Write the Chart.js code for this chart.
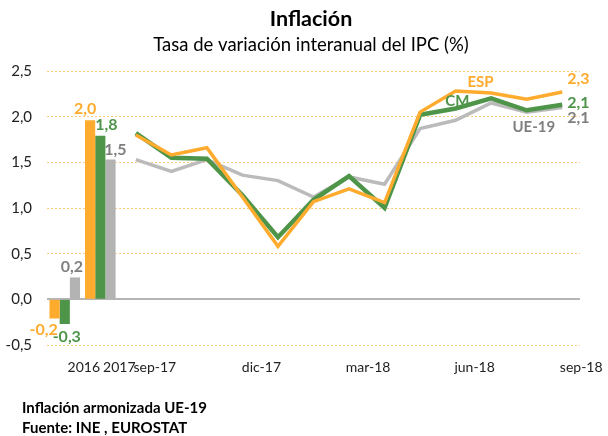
<!DOCTYPE html>
<html><head><meta charset="utf-8">
<script src="https://cdn.jsdelivr.net/npm/chart.js@4/dist/chart.umd.min.js"></script>
<style>html,body{margin:0;padding:0;background:#fff}#wrap{width:608px;height:436px;position:relative}</style>
</head><body><div id="wrap"><canvas id="c"></canvas></div>
<script>
const categories = ['2016','2017','sep-17','oct-17','nov-17','dic-17','ene-18','feb-18','mar-18','abr-18','may-18','jun-18','jul-18','ago-18','sep-18'];
const shownTicks = ['2016','2017','sep-17','dic-17','mar-18','jun-18','sep-18'];
const seriesNames = ['ESP','CM','UE-19'];
const annualESP = [-0.21, 1.96];
const annualCM = [-0.27, 1.79];
const annualUE = [0.24, 1.53];
const monthlyESP = [1.80,1.58,1.66,1.12,0.58,1.07,1.21,1.06,2.05,2.28,2.26,2.19,2.27];
const monthlyCM  = [1.82,1.55,1.54,1.14,0.68,1.09,1.35,1.00,2.02,2.09,2.20,2.07,2.13];
const monthlyUE  = [1.53,1.40,1.53,1.36,1.30,1.12,1.34,1.26,1.87,1.96,2.15,2.05,2.10];
const titleText = 'Inflación';
const subtitleText = 'Tasa de variación interanual del IPC (%)';
const footerLines = ['Inflación armonizada UE-19','Fuente: INE , EUROSTAT'];

const COL = {ESP:'#FFAB2E', CM:'#4E954A', UEbar:'#B3B3B3', UEline:'#BBBBBB', UEtext:'#7F7F7F'};
const FONT = 'Lato, "Open Sans", sans-serif';
const fmt = v => v.toFixed(1).replace('.', ',');
const nA = annualESP.length;
const pad = (arr, before) => before ? Array(nA).fill(null).concat(arr) : arr.concat(Array(categories.length - arr.length).fill(null));

const overlay = {
  id: 'overlay',
  beforeDatasetsDraw(chart) {
    const {ctx, chartArea, scales} = chart;
    const y0 = Math.round(scales.y.getPixelForValue(0));
    ctx.save();
    ctx.strokeStyle = '#B5B5B5'; ctx.lineWidth = 2;
    ctx.beginPath(); ctx.moveTo(chartArea.left, y0); ctx.lineTo(chartArea.right, y0); ctx.stroke();
    ctx.restore();
  },
  afterDraw(chart) {
    const {ctx} = chart;
    ctx.save();
    ctx.textAlign = 'center'; ctx.textBaseline = 'middle';
    ctx.fillStyle = '#000';
    ctx.font = 'bold 21.5px ' + FONT;
    ctx.fillText(titleText, 311, 19);
    ctx.font = '18.5px ' + FONT;
    ctx.fillText(subtitleText, 311, 45);
    ctx.textAlign = 'left';
    ctx.font = 'bold 15px ' + FONT;
    ctx.fillText(footerLines[0], 22, 408);
    ctx.fillText(footerLines[1], 22, 428);
    // bar labels
    ctx.font = 'bold 16px ' + FONT;
    ctx.textAlign = 'center';
    const barCols = [COL.ESP, COL.CM, COL.UEtext];
    const barOff = [[[-11, 11], [-5, -11]], [[2, 13], [6, -11]], [[-3, -11], [5, -10]]];
    for (let d = 0; d < 3; d++) {
      const meta = chart.getDatasetMeta(d);
      const data = chart.data.datasets[d].data;
      for (let i = 0; i < nA; i++) {
        const el = meta.data[i]; const v = data[i];
        const o = barOff[d][i];
        ctx.fillStyle = barCols[d];
        ctx.fillText(fmt(v), el.x + o[0], el.y + o[1]);
      }
    }
    // end-of-line labels
    const lineCols = [COL.ESP, COL.CM, COL.UEtext];
    const endOff = [-13, -2, 10];
    ctx.textAlign = 'left';
    for (let d = 3; d < 6; d++) {
      const meta = chart.getDatasetMeta(d);
      const data = chart.data.datasets[d].data;
      const last = data.length - 1;
      const el = meta.data[last];
      ctx.fillStyle = lineCols[d - 3];
      ctx.fillText(fmt(data[last]), el.x + 5, el.y + endOff[d - 3]);
    }
    // series names
    ctx.font = 'bold 15px ' + FONT;
    ctx.textAlign = 'center';
    const x = chart.scales.x;
    const nameSpots = [[11.7, 2.38], [11.05, 2.17], [13.2, 1.88]];
    for (let s = 0; s < 3; s++) {
      ctx.fillStyle = lineCols[s];
      ctx.fillText(seriesNames[s], x.getPixelForValue(nameSpots[s][0]), chart.scales.y.getPixelForValue(nameSpots[s][1]));
    }
    ctx.restore();
  }
};

new Chart(document.getElementById('c'), {
  data: {
    labels: categories,
    datasets: [
      {type:'bar', label:seriesNames[0], data: pad(annualESP,false), backgroundColor: COL.ESP},
      {type:'bar', label:seriesNames[1], data: pad(annualCM,false), backgroundColor: COL.CM},
      {type:'bar', label:seriesNames[2], data: pad(annualUE,false), backgroundColor: COL.UEbar},
      {type:'line', label:seriesNames[0], data: pad(monthlyESP,true), borderColor: COL.ESP, borderWidth: 3.5, pointRadius: 0, tension: 0, order: -3},
      {type:'line', label:seriesNames[1], data: pad(monthlyCM,true), borderColor: COL.CM, borderWidth: 4.5, pointRadius: 0, tension: 0, order: -2},
      {type:'line', label:seriesNames[2], data: pad(monthlyUE,true), borderColor: COL.UEline, borderWidth: 3.5, pointRadius: 0, tension: 0, order: -1}
    ]
  },
  options: {
    responsive: true, maintainAspectRatio: false, animation: false,
    layout: {padding: {top: 71, right: 28, left: 0, bottom: 0}},
    plugins: {legend: {display: false}, tooltip: {enabled: false}},
    datasets: {bar: {categoryPercentage: 0.86, barPercentage: 1.0}},
    scales: {
      x: {
        offset: true,
        grid: {display: false, drawTicks: false},
        border: {display: false},
        afterFit: s => { s.height = 91; },
        ticks: {
          autoSkip: false, maxRotation: 0, padding: 14, labelOffset: 19,
          color: '#222', font: {family: FONT, size: 14},
          callback: function(v, i) { const l = categories[i]; return shownTicks.includes(l) ? l : ''; }
        }
      },
      y: {
        min: -0.5, max: 2.5,
        afterFit: s => { s.width = 47; },
        grid: {drawTicks: false, color: c => c.tick.value === 0 ? 'rgba(0,0,0,0)' : '#FFCB80', lineWidth: 1},
        border: {display: false, dash: [2, 2]},
        ticks: {stepSize: 0.5, padding: 15, color: '#222', font: {family: FONT, size: 15},
          callback: v => fmt(v)}
      }
    }
  },
  plugins: [overlay]
});
</script></body></html>
